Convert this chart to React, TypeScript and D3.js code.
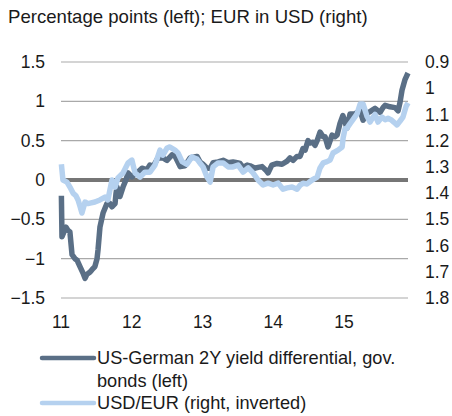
import React from 'react';
import * as d3 from 'd3';

// US-German 2Y yield differential, percentage points (left axis)
const diffDates = [
  '2011-01-03', '2011-01-06', '2011-01-16', '2011-01-27', '2011-02-06', '2011-02-16', '2011-02-27',
  '2011-03-14', '2011-03-25', '2011-04-09', '2011-04-24', '2011-05-05', '2011-05-15', '2011-05-31',
  '2011-06-10', '2011-06-25', '2011-07-06', '2011-07-11', '2011-07-21', '2011-08-06', '2011-08-26',
  '2011-09-11', '2011-09-21', '2011-10-07', '2011-10-12', '2011-10-17', '2011-11-01', '2011-11-17',
  '2011-12-02', '2011-12-13', '2012-01-02', '2012-01-28', '2012-02-23', '2012-03-20', '2012-04-04',
  '2012-04-20', '2012-05-15', '2012-06-10', '2012-07-01', '2012-07-27', '2012-08-12', '2012-09-07',
  '2012-10-02', '2012-10-28', '2012-12-03', '2012-12-18', '2013-01-03', '2013-01-24', '2013-02-09',
  '2013-02-24', '2013-03-22', '2013-04-17', '2013-05-13', '2013-06-07', '2013-06-28', '2013-07-13',
  '2013-07-29', '2013-08-19', '2013-09-03', '2013-09-29', '2013-10-14', '2013-11-04', '2013-11-25',
  '2013-12-05', '2013-12-24', '2014-01-20', '2014-02-15', '2014-03-13', '2014-03-28', '2014-04-13',
  '2014-05-03', '2014-05-19', '2014-06-03', '2014-06-14', '2014-06-29', '2014-07-09', '2014-07-25',
  '2014-08-04', '2014-08-15', '2014-08-30', '2014-09-15', '2014-09-25', '2014-10-10', '2014-10-31',
  '2014-11-15', '2014-11-26', '2014-12-11', '2014-12-26', '2015-01-16', '2015-02-01', '2015-02-11',
  '2015-02-27', '2015-03-09', '2015-03-25', '2015-04-09', '2015-04-25', '2015-05-15', '2015-06-10',
  '2015-07-06', '2015-07-21', '2015-08-01', '2015-08-26', '2015-09-21', '2015-10-07', '2015-10-17',
  '2015-10-27', '2015-11-12', '2015-11-27',
];
const diffValues = [
  -0.2, -0.72, -0.66, -0.6, -0.64, -0.66, -0.95,
  -1.0, -1.02, -1.1, -1.18, -1.25, -1.2, -1.17,
  -1.14, -1.1, -1.0, -0.89, -0.6, -0.42, -0.3,
  -0.3, -0.34, -0.3, -0.17, -0.09, -0.21, -0.09,
  0.0, 0.09, 0.04, 0.09, 0.15, 0.13, 0.19,
  0.17, 0.28, 0.28, 0.25, 0.32, 0.3, 0.17,
  0.18, 0.28, 0.3, 0.23, 0.2, 0.15, 0.15,
  0.22, 0.23, 0.25, 0.22, 0.23, 0.22, 0.21,
  0.16, 0.19, 0.18, 0.15, 0.16, 0.17, 0.12,
  0.09, 0.19, 0.21, 0.2, 0.24, 0.28, 0.25,
  0.3, 0.3, 0.4, 0.38, 0.5, 0.47, 0.48,
  0.44, 0.5, 0.61, 0.55, 0.55, 0.42, 0.57,
  0.55, 0.57, 0.72, 0.82, 0.66, 0.84, 0.84,
  0.84, 0.86, 0.88, 0.76, 0.84, 0.87, 0.91,
  0.86, 0.92, 0.95, 0.93, 0.92, 0.88, 0.99,
  1.14, 1.28, 1.36,
];

// USD per EUR (right axis, inverted)
const fxDates = [
  '2011-01-03', '2011-01-11', '2011-02-01', '2011-02-16', '2011-03-04', '2011-03-19', '2011-03-30',
  '2011-04-09', '2011-04-19', '2011-05-05', '2011-05-20', '2011-05-31', '2011-06-25', '2011-07-21',
  '2011-08-16', '2011-08-31', '2011-09-21', '2011-10-07', '2011-10-22', '2011-11-17', '2011-12-13',
  '2012-01-02', '2012-01-18', '2012-02-13', '2012-03-09', '2012-04-04', '2012-04-30', '2012-05-26',
  '2012-06-10', '2012-07-01', '2012-07-16', '2012-08-11', '2012-08-27', '2012-09-17', '2012-10-12',
  '2012-11-07', '2012-12-03', '2012-12-18', '2013-01-03', '2013-01-24', '2013-02-09', '2013-02-24',
  '2013-03-22', '2013-04-17', '2013-05-13', '2013-06-07', '2013-07-03', '2013-07-29', '2013-08-24',
  '2013-09-18', '2013-10-14', '2013-11-09', '2013-12-05', '2013-12-31', '2014-01-26', '2014-02-20',
  '2014-03-13', '2014-04-08', '2014-05-03', '2014-05-19', '2014-06-03', '2014-06-24', '2014-07-20',
  '2014-08-15', '2014-08-30', '2014-09-15', '2014-10-05', '2014-10-21', '2014-11-05', '2014-12-01',
  '2014-12-22', '2014-12-27', '2015-01-06', '2015-01-16', '2015-02-01', '2015-02-16', '2015-03-09',
  '2015-03-25', '2015-04-09', '2015-04-30', '2015-05-15', '2015-05-31', '2015-06-10', '2015-06-25',
  '2015-07-16', '2015-08-01', '2015-08-16', '2015-08-31', '2015-09-16', '2015-10-01', '2015-10-17',
  '2015-11-01', '2015-11-17', '2015-11-27',
];
const fxValues = [
  1.29, 1.35, 1.358, 1.377, 1.4, 1.41, 1.426,
  1.45, 1.476, 1.434, 1.44, 1.438, 1.434, 1.426,
  1.415, 1.426, 1.35, 1.377, 1.342, 1.323, 1.285,
  1.274, 1.323, 1.339, 1.32, 1.32, 1.293, 1.236,
  1.255, 1.228, 1.224, 1.236, 1.247, 1.28, 1.29,
  1.262, 1.27, 1.285, 1.3, 1.339, 1.358, 1.3,
  1.285, 1.285, 1.3, 1.3, 1.293, 1.32, 1.304,
  1.323, 1.35, 1.369, 1.362, 1.369, 1.362, 1.385,
  1.38, 1.377, 1.385, 1.37, 1.362, 1.365, 1.35,
  1.339, 1.304, 1.285, 1.28, 1.274, 1.247, 1.236,
  1.224, 1.19, 1.155, 1.152, 1.135, 1.12, 1.098,
  1.06, 1.06, 1.108, 1.129, 1.11, 1.1, 1.129,
  1.11, 1.12, 1.115, 1.12, 1.13, 1.14, 1.125,
  1.11, 1.07, 1.056,
];

const leftTicks = [-1.5, -1, -0.5, 0, 0.5, 1, 1.5];
const rightTicks = [0.9, 1.0, 1.1, 1.2, 1.3, 1.4, 1.5, 1.6, 1.7, 1.8];
const yearTicks = ['2011-01-01', '2012-01-01', '2013-01-01', '2014-01-01', '2015-01-01'];

const title = 'Percentage points (left); EUR in USD (right)';
const legendDiff = ['US-German 2Y yield differential, gov.', 'bonds (left)'];
const legendFx = 'USD/EUR (right, inverted)';

const DARK = '#5a6f86';
const LIGHT = '#b5d1ef';
const FONT = '"Liberation Sans", Arial, sans-serif';

export default function App() {
  const width = 452;
  const height = 416;
  const plot = { left: 61, right: 408, top: 62, bottom: 298 };
  const parse = d3.timeParse('%Y-%m-%d');

  const x = d3.scaleTime()
    .domain([parse('2011-01-01')!, parse('2015-11-27')!])
    .range([plot.left, plot.right]);
  const yL = d3.scaleLinear().domain([-1.5, 1.5]).range([plot.bottom, plot.top]);
  const yR = d3.scaleLinear().domain([0.9, 1.8]).range([plot.top, plot.bottom]);

  const diff = diffDates.map((d, i) => ({ date: parse(d)!, v: diffValues[i] }));
  const fx = fxDates.map((d, i) => ({ date: parse(d)!, v: fxValues[i] }));

  const diffLine = d3.line<{ date: Date; v: number }>()
    .x(d => x(d.date))
    .y(d => yL(d.v));
  const fxLine = d3.line<{ date: Date; v: number }>()
    .x(d => x(d.date))
    .y(d => yR(d.v));

  const fmtRight = (v: number) => (Math.abs(v - 1) < 1e-9 ? '1' : d3.format('.1f')(v));

  return (
    <svg
      width={width}
      height={height}
      style={{ position: 'absolute', left: 0, top: 0, background: '#fff' }}
      fontFamily={FONT}
    >
      <text x={8} y={23} fontSize={18.6} fill="#1a1a1a">{title}</text>

      {/* gridlines */}
      {leftTicks.filter(t => t !== 0).map(t => (
        <line key={t} x1={plot.left} x2={plot.right} y1={yL(t)} y2={yL(t)} stroke="#a9a9a9" strokeWidth={1.2} />
      ))}
      <line x1={plot.left} x2={plot.right} y1={yL(0)} y2={yL(0)} stroke="#767676" strokeWidth={4} />

      {/* left axis labels */}
      {leftTicks.map(t => (
        <text key={t} x={45} y={yL(t)} dy="0.35em" textAnchor="end" fontSize={17.5} fill="#1a1a1a">
          {d3.format('')(t)}
        </text>
      ))}

      {/* right axis labels */}
      {rightTicks.map(t => (
        <text key={t} x={425} y={yR(t)} dy="0.35em" textAnchor="start" fontSize={17.5} fill="#1a1a1a">
          {fmtRight(t)}
        </text>
      ))}

      {/* x axis labels */}
      {yearTicks.map(d => (
        <text key={d} x={x(parse(d)!)} y={322} dy="0.35em" textAnchor="middle" fontSize={17.5} fill="#1a1a1a">
          {d3.timeFormat('%y')(parse(d)!)}
        </text>
      ))}

      <path d={diffLine(diff) ?? ''} fill="none" stroke={DARK} strokeWidth={5.5} strokeLinejoin="round" />
      <path d={fxLine(fx) ?? ''} fill="none" stroke={LIGHT} strokeWidth={5.5} strokeLinejoin="round" />

      {/* legend */}
      <line x1={42} x2={94} y1={358} y2={358} stroke={DARK} strokeWidth={4.5} strokeLinecap="round" />
      <text x={97} y={358} dy="0.35em" fontSize={18.2} fill="#1a1a1a">{legendDiff[0]}</text>
      <text x={97} y={381} dy="0.35em" fontSize={18.2} fill="#1a1a1a">{legendDiff[1]}</text>
      <line x1={42} x2={94} y1={403} y2={403} stroke={LIGHT} strokeWidth={4.5} strokeLinecap="round" />
      <text x={97} y={403} dy="0.35em" fontSize={18.2} fill="#1a1a1a">{legendFx}</text>
    </svg>
  );
}
